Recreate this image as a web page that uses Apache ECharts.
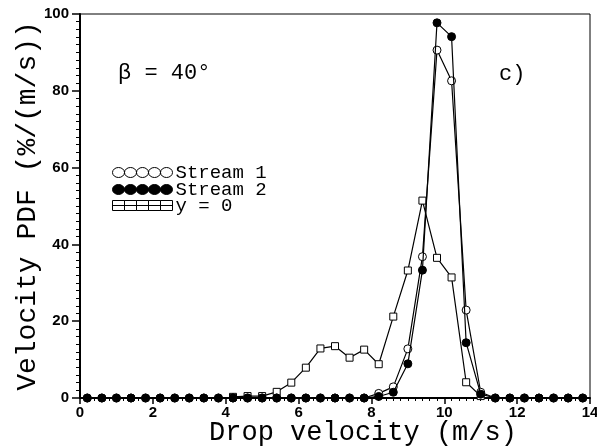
<!DOCTYPE html>
<html><head><meta charset="utf-8">
<script src="https://cdn.jsdelivr.net/npm/echarts@6/dist/echarts.min.js"></script>
<style>html,body{margin:0;padding:0;background:#fff}#c{width:597px;height:448px}</style>
</head><body><div id="c"></div>
<script>
var xs = [0.2,0.6,1.0,1.4,1.8,2.2,2.6,3.0,3.4,3.8,4.2,4.6,5.0,5.4,5.8,6.2,6.6,7.0,7.4,7.8,8.2,8.6,9.0,9.4,9.8,10.2,10.6,11.0,11.4,11.8,12.2,12.6,13.0,13.4,13.8];
var stream1 = [0,0,0,0,0,0,0,0,0,0,0,0,0,0,0,0,0,0,0,0,1.2,2.9,12.8,36.8,90.6,82.6,22.9,1.5,0,0,0,0,0,0,0];
var stream2 = [0,0,0,0,0,0,0,0,0,0,0,0,0,0,0,0,0,0,0,0,0.4,1.5,8.9,33.3,97.7,94.1,14.4,1.0,0,0,0,0,0,0,0];
var yZero = [null,null,null,null,null,null,null,null,null,null,0.3,0.5,0.5,1.6,4.0,7.9,12.9,13.5,10.5,12.6,8.8,21.2,33.2,51.4,36.5,31.4,4.1,0.5,null,null,null,null,null,null,null];
var xTicks = [0,2,4,6,8,10,12,14];
var yTicks = [0,20,40,60,80,100];
var seriesNames = ['Stream 1','Stream 2','y = 0'];

function pairs(v){ return xs.map(function(x,i){ return [x, v[i]]; }); }

var circ5 = 'path://M0 5A5 5 0 1 0 10 5A5 5 0 1 0 0 5ZM10 5A5 5 0 1 0 20 5A5 5 0 1 0 10 5ZM20 5A5 5 0 1 0 30 5A5 5 0 1 0 20 5ZM30 5A5 5 0 1 0 40 5A5 5 0 1 0 30 5ZM40 5A5 5 0 1 0 50 5A5 5 0 1 0 40 5Z';
var sq5 = 'path://M0 0H10V10H0ZM10 0H20V10H10ZM20 0H30V10H20ZM30 0H40V10H30ZM40 0H50V10H40ZM0 5H50';

var mono = 'Liberation Mono';
var legendStyles = [
  {icon:circ5, itemStyle:{color:'#fff', borderColor:'#000', borderWidth:1}},
  {icon:circ5, itemStyle:{color:'#000', borderColor:'#000', borderWidth:1}},
  {icon:sq5, itemStyle:{color:'#fff', borderColor:'#000', borderWidth:1}}
];
var legendTops = [163, 180, 196];
var legends = seriesNames.map(function(n, i){
  return {
    left:112, top:legendTops[i], padding:0, orient:'vertical', itemWidth:60, itemHeight:10,
    symbolKeepAspect:false, selectedMode:false,
    textStyle:{fontFamily:mono, fontSize:19, color:'#000', padding:[0,0,0,-2]},
    data:[Object.assign({name:n}, legendStyles[i])]
  };
});

var chart = echarts.init(document.getElementById('c'), null, {renderer:'canvas'});
chart.setOption({
  animation:false,
  backgroundColor:'#fff',
  grid:{left:80, top:14, right:7, bottom:50, show:true, borderColor:'#000', borderWidth:1,
        containLabel:false, outerBoundsMode:'none'},
  legend:legends,
  xAxis:{
    type:'value', min:xTicks[0], max:xTicks[xTicks.length-1], interval:2,
    name:'Drop velocity (m/s)', nameLocation:'middle', nameGap:21, nameMoveOverlap:false,
    nameTextStyle:{fontFamily:mono, fontSize:27, color:'#000', padding:[0,0,0,56]},
    axisLine:{onZero:false, lineStyle:{color:'#000', width:2}},
    axisTick:{show:true, length:6, lineStyle:{color:'#000', width:1.5}},
    minorTick:{show:true, splitNumber:10, length:3, lineStyle:{color:'#000', width:1}},
    splitLine:{show:false},
    axisLabel:{color:'#000', fontFamily:'Liberation Sans', fontWeight:'bold', fontSize:15, margin:7}
  },
  yAxis:{
    type:'value', min:yTicks[0], max:yTicks[yTicks.length-1], interval:20,
    name:'Velocity PDF (%/(m/s))', nameLocation:'middle', nameGap:38, nameMoveOverlap:false,
    nameTextStyle:{fontFamily:mono, fontSize:28, color:'#000'},
    axisLine:{onZero:false, lineStyle:{color:'#000', width:2}},
    axisTick:{show:true, length:8, lineStyle:{color:'#000', width:1.5}},
    minorTick:{show:true, splitNumber:10, length:4, lineStyle:{color:'#000', width:1}},
    splitLine:{show:false},
    axisLabel:{color:'#000', fontFamily:'Liberation Sans', fontWeight:'bold', fontSize:15, margin:11}
  },
  graphic:[
    {type:'text', left:118, top:62, style:{text:'β = 40°', font:'22px "Liberation Mono"', fill:'#000'}},
    {type:'text', left:499, top:63, style:{text:'c)', font:'22px "Liberation Mono"', fill:'#000'}}
  ],
  series:[
    {name:seriesNames[2], type:'line', data:pairs(yZero), symbol:'rect', symbolSize:7, z:2,
     connectNulls:false, lineStyle:{color:'#000', width:1.2},
     itemStyle:{color:'#fff', borderColor:'#000', borderWidth:1}},
    {name:seriesNames[0], type:'line', data:pairs(stream1), symbol:'circle', symbolSize:8, z:3,
     lineStyle:{color:'#000', width:1.2},
     itemStyle:{color:'#fff', borderColor:'#000', borderWidth:1}},
    {name:seriesNames[1], type:'line', data:pairs(stream2), symbol:'circle', symbolSize:8, z:4,
     lineStyle:{color:'#000', width:1.2},
     itemStyle:{color:'#000', borderColor:'#000', borderWidth:1}}
  ]
});
</script></body></html>
